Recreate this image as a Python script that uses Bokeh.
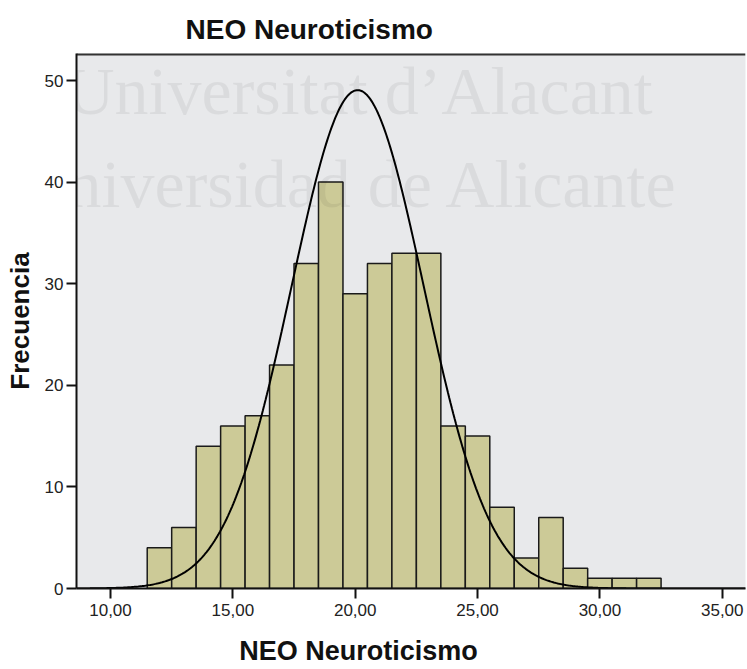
import numpy as np
from bokeh.plotting import figure
from bokeh.models import Range1d, FixedTicker, Label, ColumnDataSource
from bokeh.embed import file_html
from bokeh.resources import INLINE

# Histogram of NEO Neuroticismo scores, bins of width 1 centred on integers
bin_centers = [12, 13, 14, 15, 16, 17, 18, 19, 20, 21, 22,
               23, 24, 25, 26, 27, 28, 29, 30, 31, 32]
frequencies = [4, 6, 14, 16, 17, 22, 32, 40, 29, 32, 33,
               33, 16, 15, 8, 3, 7, 2, 1, 1, 1]
bin_width = 1.0

# Parameters of the superimposed normal curve
curve_mean = 20.1
curve_sd = 2.7

x_ticks = [10, 15, 20, 25, 30, 35]
x_tick_labels = ["10,00", "15,00", "20,00", "25,00", "30,00", "35,00"]
y_ticks = [0, 10, 20, 30, 40, 50]

title_text = "NEO Neuroticismo"
x_title = "NEO Neuroticismo"
y_title = "Frecuencia"
watermark_lines = ["Universitat d\u2019Alacant", "Universidad de Alicante"]

n_total = sum(frequencies)
bars = ColumnDataSource(dict(
    left=[c - bin_width / 2 for c in bin_centers],
    right=[c + bin_width / 2 for c in bin_centers],
    top=frequencies,
))

x_lo, x_hi = 8.61, 35.95
y_hi = 52.66
curve_x = np.linspace(x_lo, x_hi, 500)
curve_y = (n_total * bin_width / (curve_sd * np.sqrt(2 * np.pi))
           * np.exp(-0.5 * ((curve_x - curve_mean) / curve_sd) ** 2))

# trailing no-break spaces push the centred x title to the left
x_label_padded = x_title + "\u00a0" * 14

p = figure(width=747, height=669, output_backend="svg", toolbar_location=None,
           x_range=Range1d(x_lo, x_hi), y_range=Range1d(0, y_hi),
           min_border_left=76, min_border_right=2, min_border_top=53,
           min_border_bottom=81,
           x_axis_label=x_label_padded, y_axis_label=y_title)

p.title.text = title_text
p.title.align = "left"
p.title.offset = 109
p.title.text_font = "Liberation Sans"
p.title.text_font_style = "bold"
p.title.text_font_size = "28px"
p.title.text_color = "#111111"
p.title.standoff = 18

p.background_fill_color = "#E8E9EB"
p.border_fill_color = "white"
p.outline_line_color = None
p.grid.visible = False

for ax in (p.xaxis[0], p.yaxis[0]):
    ax.axis_line_color = "#111111"
    ax.axis_line_width = 2
    ax.major_tick_line_color = "#111111"
    ax.major_tick_line_width = 2
    ax.major_tick_in = 0
    ax.major_tick_out = 10
    ax.minor_tick_line_color = None
    ax.major_label_text_font = "Liberation Sans"
    ax.major_label_text_font_size = "17px"
    ax.major_label_text_color = "#222222"
    ax.axis_label_text_font = "Liberation Sans"
    ax.axis_label_text_font_style = "bold"
    ax.axis_label_text_color = "#111111"

p.xaxis[0].axis_label_text_font_size = "27px"
p.yaxis[0].axis_label_text_font_size = "26px"

p.xaxis[0].ticker = FixedTicker(ticks=x_ticks)
p.xaxis[0].major_label_overrides = dict(zip(x_ticks, x_tick_labels))
p.xaxis[0].major_label_standoff = 5
p.xaxis[0].axis_label_standoff = 17
p.yaxis[0].ticker = FixedTicker(ticks=y_ticks)
p.yaxis[0].major_label_standoff = 3
p.yaxis[0].axis_label_standoff = 7

p.quad(left="left", right="right", top="top", bottom=0, source=bars,
       fill_color="#CCCA97", line_color="#1A1A1A", line_width=1.5)

p.line(curve_x, curve_y, line_color="black", line_width=2)

# top border of the plotting area
p.line([x_lo, x_hi], [y_hi, y_hi], line_color="#333333", line_width=4)

# faint institutional watermark
for text, sx, sy in zip(watermark_lines, [-11, -58], [498, 405]):
    p.add_layout(Label(x=sx, y=sy, x_units="screen", y_units="screen", text=text,
                       text_font="Liberation Serif", text_font_size="68px",
                       text_color="black", text_alpha=0.06,
                       text_baseline="alphabetic"))

open("out.html", "w").write(file_html(p, INLINE))
